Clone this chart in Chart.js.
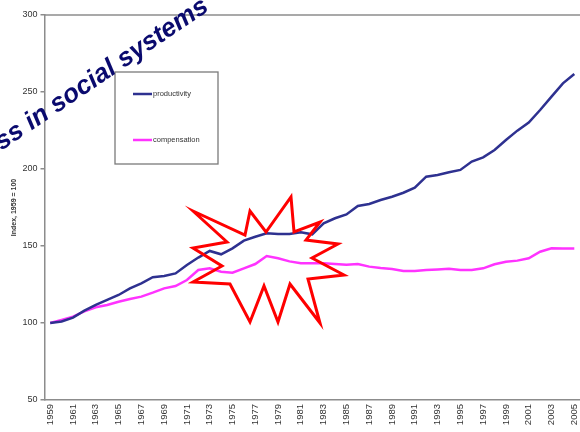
<!DOCTYPE html>
<html>
<head>
<meta charset="utf-8">
<script src="https://cdn.jsdelivr.net/npm/chart.js@4.4.1/dist/chart.umd.min.js"></script>
<style>
  html, body { margin: 0; padding: 0; background: #fff; overflow: hidden; }
  #wrap { position: relative; width: 580px; height: 432px; }
</style>
</head>
<body>
<div id="wrap"><canvas id="chart" width="580" height="432"></canvas></div>
<script>
const years = ['1959', '1960', '1961', '1962', '1963', '1964', '1965', '1966', '1967', '1968',
  '1969', '1970', '1971', '1972', '1973', '1974', '1975', '1976', '1977', '1978',
  '1979', '1980', '1981', '1982', '1983', '1984', '1985', '1986', '1987', '1988',
  '1989', '1990', '1991', '1992', '1993', '1994', '1995', '1996', '1997', '1998',
  '1999', '2000', '2001', '2002', '2003', '2004', '2005'];

const productivity = [100, 101, 103.5, 108, 111.7, 115, 118.2, 122.5, 125.8, 129.7,
  130.5, 132.2, 137.7, 142.5, 146.8, 144.6, 148.5, 153.5, 156, 158.2,
  157.8, 157.8, 158.9, 157.6, 164.7, 168, 170.5, 176, 177.3, 179.9,
  182, 184.6, 187.9, 195, 196.1, 197.9, 199.4, 204.8, 207.6, 212.3,
  218.8, 224.9, 230.1, 238.3, 247, 255.6, 261.7];

const compensation = [100, 102, 104.1, 107.5, 110.2, 111.7, 113.8, 115.6, 117.1, 119.7,
  122.5, 124, 127.9, 134.4, 135.5, 133.3, 132.7, 135.5, 138.3, 143.5,
  142, 140, 138.8, 138.8, 138.8, 138.3, 137.9, 138.3, 136.6, 135.7,
  135.1, 133.8, 133.8, 134.4, 134.8, 135.3, 134.4, 134.4, 135.5, 138.1,
  139.8, 140.5, 142, 146.3, 148.5, 148.4, 148.4];

const seriesNames = ['productivity', 'compensation'];
const seriesColors = ['#2e3190', '#ff33ff'];
const yTicks = [50, 100, 150, 200, 250, 300];
const yTitle = 'Index, 1959 = 100';
const overlayText = 'ss in social systems';

// red "explosion" outline drawn over the middle of the plot (canvas pixels)
const burst = [
  [193, 211], [245, 235], [250, 211], [266, 232], [291, 197], [294, 232],
  [320, 222], [306, 240], [338, 244], [312, 258], [344, 275], [308, 279],
  [320, 323], [290, 284], [278, 322], [264, 286], [250, 322], [230, 284],
  [193, 282], [222, 266], [193, 248], [227, 242]
];

const decorations = {
  id: 'decorations',
  beforeDatasetsDraw(chart) {
    const { ctx, chartArea } = chart;
    ctx.save();
    ctx.strokeStyle = '#8c8c8c';
    ctx.lineWidth = 1.5;
    ctx.beginPath();
    ctx.moveTo(chartArea.left, chartArea.top);
    ctx.lineTo(chartArea.right, chartArea.top);
    ctx.stroke();

    // legend box
    ctx.fillStyle = '#fff';
    ctx.fillRect(115, 72, 103, 92);
    ctx.strokeStyle = '#7a7a7a';
    ctx.lineWidth = 1.3;
    ctx.strokeRect(115, 72, 103, 92);
    const rows = [94, 140];
    chart.data.datasets.forEach((ds, i) => {
      ctx.strokeStyle = ds.borderColor;
      ctx.lineWidth = 2.5;
      ctx.beginPath();
      ctx.moveTo(133, rows[i]);
      ctx.lineTo(152, rows[i]);
      ctx.stroke();
      ctx.fillStyle = '#333';
      ctx.font = '7.5px "Liberation Sans", Arial, sans-serif';
      ctx.textBaseline = 'middle';
      ctx.fillText(ds.label, 153, rows[i]);
    });
    ctx.restore();
  },
  afterDatasetsDraw(chart) {
    const { ctx } = chart;
    ctx.save();
    ctx.strokeStyle = '#ff0000';
    ctx.lineWidth = 3;
    ctx.lineJoin = 'miter';
    ctx.beginPath();
    burst.forEach(([x, y], i) => (i ? ctx.lineTo(x, y) : ctx.moveTo(x, y)));
    ctx.closePath();
    ctx.stroke();

    ctx.translate(210, 10);
    ctx.rotate(-34 * Math.PI / 180);
    ctx.font = 'italic bold 26px "Liberation Sans", Arial, sans-serif';
    ctx.fillStyle = '#0a0a6e';
    ctx.textAlign = 'right';
    ctx.textBaseline = 'alphabetic';
    ctx.fillText(overlayText, 0, 0);
    ctx.restore();
  }
};

new Chart(document.getElementById('chart'), {
  type: 'line',
  data: {
    labels: years,
    datasets: [
      { label: seriesNames[0], data: productivity, borderColor: seriesColors[0], borderWidth: 2.5 },
      { label: seriesNames[1], data: compensation, borderColor: seriesColors[1], borderWidth: 2.5 }
    ]
  },
  options: {
    responsive: false,
    animation: false,
    layout: { padding: { top: 15, right: 0, left: 0, bottom: 0 } },
    elements: { point: { radius: 0 }, line: { tension: 0 } },
    plugins: { legend: { display: false }, tooltip: { enabled: false } },
    scales: {
      x: {
        type: 'category',
        offset: true,
        grid: { drawOnChartArea: false, drawTicks: false },
        border: { color: '#8c8c8c', width: 1.5 },
        ticks: {
          autoSkip: false,
          maxRotation: 90,
          minRotation: 90,
          padding: 4,
          color: '#333',
          font: { family: '"Liberation Sans", Arial, sans-serif', size: 9.5 },
          callback: (v, i) => (i % 2 === 0 ? years[i] : '')
        },
        afterFit: s => { s.height = 32; s.paddingRight = 0; s.paddingLeft = 0; }
      },
      y: {
        min: 50,
        max: 300,
        afterBuildTicks: s => { s.ticks = yTicks.map(v => ({ value: v })); },
        grid: { drawOnChartArea: false, tickLength: 4, color: '#8c8c8c', lineWidth: 1.5 },
        border: { color: '#8c8c8c', width: 1.5 },
        ticks: {
          padding: 3,
          color: '#333',
          font: { family: '"Liberation Sans", Arial, sans-serif', size: 9 }
        },
        title: {
          display: true,
          text: yTitle,
          color: '#333',
          padding: { top: 10, bottom: 0 },
          font: { family: '"Liberation Sans", Arial, sans-serif', size: 7, weight: 'bold' }
        },
        afterFit: s => { s.width = 44.5; s.paddingTop = 0; s.paddingBottom = 0; }
      }
    }
  },
  plugins: [decorations]
});
</script>
</body>
</html>
